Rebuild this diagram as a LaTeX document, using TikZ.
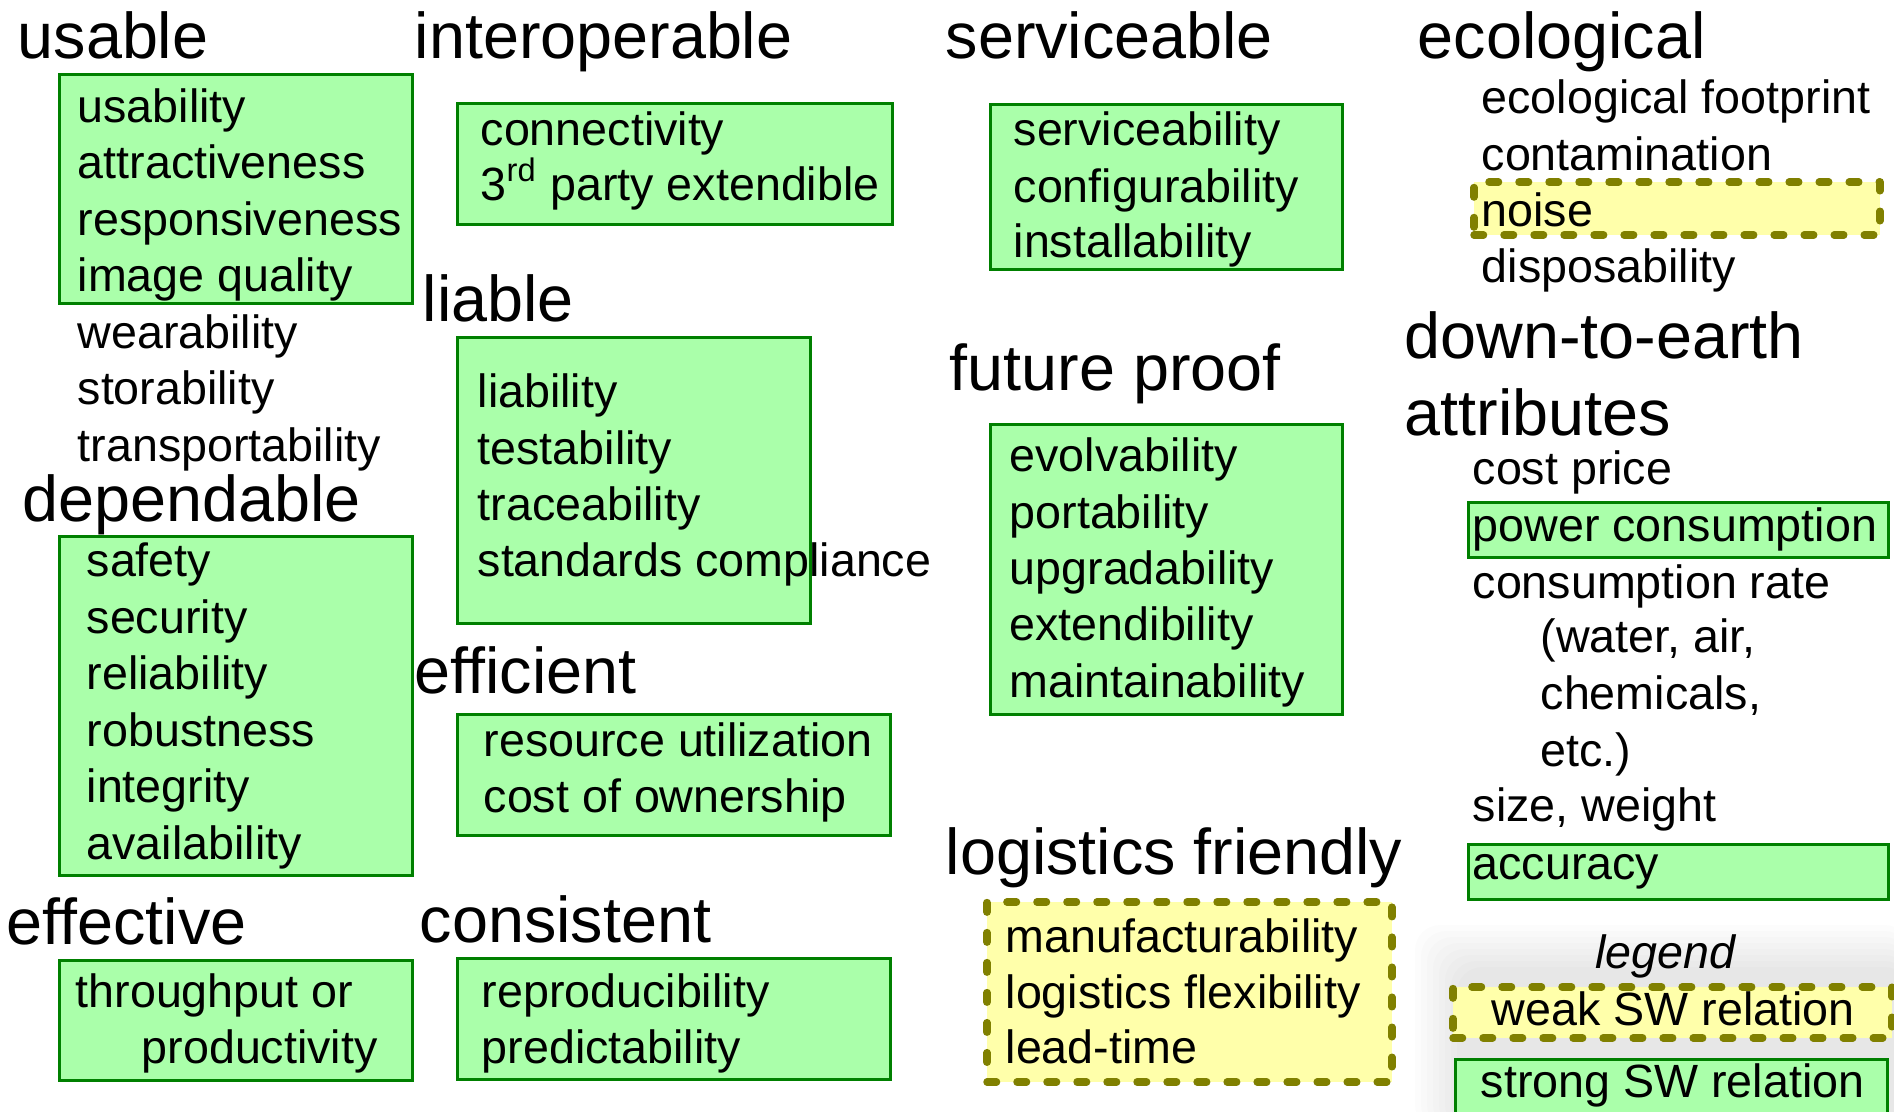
\documentclass[tikz,border=0pt]{standalone}
\usepackage{fontspec}
\setmainfont{Liberation Sans}
\usetikzlibrary{fit}
\definecolor{strongfill}{HTML}{AAFFAA}
\definecolor{strongline}{HTML}{008000}
\definecolor{weakfill}{HTML}{FFFFAA}
\definecolor{weakline}{HTML}{808000}
\begin{document}
\begin{tikzpicture}[x=0.01cm,y=-0.01cm]
	\tikzstyle{head}=[anchor=base west,inner sep=0pt,font=\fontsize{18.4pt}{22pt}\selectfont]
	\tikzstyle{item}=[anchor=base west,inner sep=0pt,font=\fontsize{13.26pt}{16pt}\selectfont]
	\tikzstyle{strong}=[draw=strongline,fill=strongfill,line width=0.03cm,inner sep=0pt]
	\tikzstyle{weak}=[draw=weakline,fill=weakfill,line width=0.075cm,inner sep=0pt,dash pattern=on 0.095cm off 0.205cm,line cap=round,line join=round]
	\useasboundingbox (0,0) rectangle (1894,1111);
	% faint shadow behind the legend
	\foreach \i in {0,...,7}
		\fill[black,opacity=0.012,rounded corners=0.25cm] (1415+\i*6,925+\i*6) rectangle (1910,1130);
	% boxes
	\node [strong,fit={(59,74) (412,303)}] (usableBox) {};
	\node [strong,fit={(59,536) (412,875)}] (dependableBox) {};
	\node [strong,fit={(59,960) (412,1080)}] (effectiveBox) {};
	\node [strong,fit={(457,103) (892,224)}] (interopBox) {};
	\node [strong,fit={(457,337) (810,623)}] (liableBox) {};
	\node [strong,fit={(457,714) (890,835)}] (efficientBox) {};
	\node [strong,fit={(457,958) (890,1079)}] (consistentBox) {};
	\node [strong,fit={(990,104) (1342,269)}] (serviceBox) {};
	\node [strong,fit={(990,424) (1342,714)}] (futureBox) {};
	\node [weak,fit={(987,902) (1392,1082)}] (logisticsBox) {};
	\node [weak,fit={(1474,182) (1880,235)}] (noiseBox) {};
	\node [strong,fit={(1468,502) (1888,557)}] (powerBox) {};
	\node [strong,fit={(1468,844) (1888,899)}] (accuracyBox) {};
	\node [weak,fit={(1453,987) (1892,1038)}] (weakBox) {};
	\node [strong,fit={(1455,1059) (1887,1130)}] (strongBox) {};
	% headers
	\node [head] (usable) at (17,58) {usable};
	\node [head] (interoperable) at (414,58) {interoperable};
	\node [head] (serviceable) at (945,58) {serviceable};
	\node [head] (ecological) at (1417,58) {ecological};
	\node [head] (liable) at (422,321) {liable};
	\node [head] (futureproof) at (949,390) {future proof};
	\node [head] (downtoearth) at (1404,358) {down-to-earth};
	\node [head] (attributes) at (1404,435) {attributes};
	\node [head] (dependable) at (22,521) {dependable};
	\node [head] (efficient) at (414,693) {efficient};
	\node [head] (logistics) at (945,874) {logistics friendly};
	\node [head] (effective) at (6,944) {effective};
	\node [head] (consistent) at (419,942) {consistent};
	% usable
	\foreach \t/\y [count=\n] in {usability/122,attractiveness/178,responsiveness/235,image quality/291,wearability/348,storability/404,transportability/461}
		\node [item] (us\n) at (77,\y) {\t};
	% dependable
	\foreach \t/\y [count=\n] in {safety/576,security/633,reliability/689,robustness/746,integrity/802,availability/859}
		\node [item] (dep\n) at (86,\y) {\t};
	% effective
	\node [item] (eff1) at (75,1007) {throughput or};
	\node [item] (eff2) at (141,1063) {productivity};
	% interoperable
	\node [item] (int1) at (480,145) {connectivity};
	\node [item] (int2) at (480,200) {3\textsuperscript{rd} party extendible};
	% liable
	\foreach \t/\y [count=\n] in {liability/407,testability/464,traceability/520,standards compliance/576}
		\node [item] (lia\n) at (477,\y) {\t};
	% efficient
	\node [item] (effi1) at (483,756) {resource utilization};
	\node [item] (effi2) at (483,812) {cost of ownership};
	% consistent
	\node [item] (con1) at (481,1007) {reproducibility};
	\node [item] (con2) at (481,1063) {predictability};
	% serviceable
	\foreach \t/\y [count=\n] in {serviceability/145,configurability/202,installability/257}
		\node [item] (ser\n) at (1013,\y) {\t};
	% future proof
	\foreach \t/\y [count=\n] in {evolvability/471,portability/528,upgradability/584,extendibility/640,maintainability/697}
		\node [item] (fut\n) at (1009,\y) {\t};
	% logistics friendly
	\foreach \t/\y [count=\n] in {manufacturability/952,logistics flexibility/1008,lead-time/1063}
		\node [item] (log\n) at (1005,\y) {\t};
	% ecological
	\foreach \t/\y [count=\n] in {ecological footprint/113,contamination/170,noise/226,disposability/282}
		\node [item] (eco\n) at (1481,\y) {\t};
	% down-to-earth attributes
	\node [item] (dte1) at (1472,484) {cost price};
	\node [item] (dte2) at (1472,541) {power consumption};
	\node [item] (dte3) at (1472,598) {consumption rate};
	\node [item] (dte4) at (1540,652) {(water, air,};
	\node [item] (dte5) at (1540,709) {chemicals,};
	\node [item] (dte6) at (1540,766) {etc.)};
	\node [item] (dte7) at (1472,821) {size, weight};
	\node [item] (dte8) at (1472,879) {accuracy};
	% legend
	\node [item,anchor=base] (legend) at (1665,968) {\itshape legend};
	\node [item] (weakText) at (1491,1025) {weak SW relation};
	\node [item] (strongText) at (1480,1097) {strong SW relation};
\end{tikzpicture}
\end{document}
